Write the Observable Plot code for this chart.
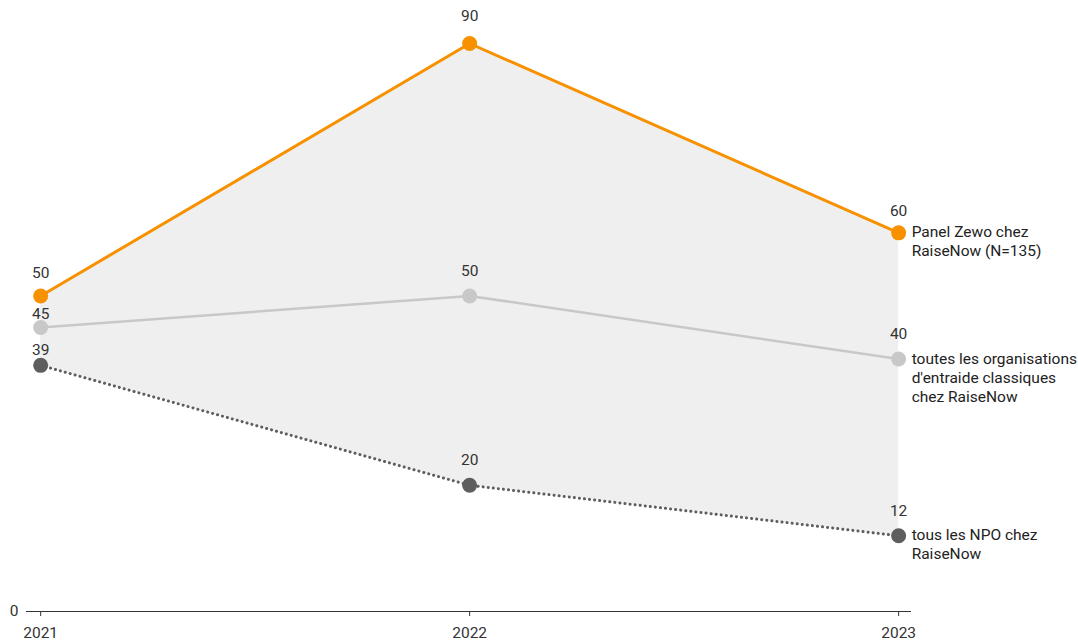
<!DOCTYPE html>
<html>
<head>
<meta charset="utf-8">
<script src="https://cdn.jsdelivr.net/npm/d3@7"></script>
<script src="https://cdn.jsdelivr.net/npm/@observablehq/plot@0.6"></script>
<style>
  html, body { margin: 0; padding: 0; background: #fff; }
  #chart { font-family: Roboto, sans-serif; }
</style>
</head>
<body>
<div id="chart"></div>
<script>
const years = [2021, 2022, 2023];
const seriesNames = [
  "Panel Zewo chez\nRaiseNow (N=135)",
  "toutes les organisations\nd'entraide classiques\nchez RaiseNow",
  "tous les NPO chez\nRaiseNow"
];
const zewo = [50, 90, 60];
const classiques = [45, 50, 40];
const npo = [39, 20, 12];
const colors = ["#F79100", "#C8C8C8", "#5E5E5E"];

const allSeries = [zewo, classiques, npo];
const rows = [];
allSeries.forEach((vals, s) => {
  vals.forEach((v, i) => rows.push({series: s, year: years[i], value: v}));
});
const band = years.map((y, i) => ({year: y, low: npo[i], high: zewo[i]}));
const lastRows = rows.filter(d => d.year === years[years.length - 1]);

// label nudges to avoid collision at the first year
function labelDy(d) {
  if (d.year === 2021 && d.series === 1) return -13;
  if (d.year === 2021 && d.series === 2) return -15;
  if (d.year === 2021 && d.series === 0) return -23;
  if (d.series === 0 && d.year === 2022) return -27;
  return d.series === 0 ? -22 : -25;
}

const lineStyles = [
  {strokeWidth: 3, dash: null},
  {strokeWidth: 2.5, dash: null},
  {strokeWidth: 3, dash: "0.1,5"}
];

const FS = 15.5;

const marks = [
  Plot.areaY(band, {x: "year", y1: "low", y2: "high", fill: "#EFEFEF"}),
  Plot.ruleY([0], {stroke: "#333", strokeWidth: 1}),
  ...allSeries.map((vals, s) =>
    Plot.line(rows.filter(d => d.series === s), {
      x: "year", y: "value", stroke: colors[s],
      strokeWidth: lineStyles[s].strokeWidth,
      strokeDasharray: lineStyles[s].dash,
      strokeLinecap: "round"
    })
  ),
  Plot.dot(rows, {x: "year", y: "value", fill: d => colors[d.series], r: 7.5}),
  ...[-27, -25, -23, -22, -15, -13].map(dy =>
    Plot.text(rows.filter(d => labelDy(d) === dy), {
      x: "year", y: "value", text: d => String(d.value), dy,
      fill: "#333", fontSize: FS
    })
  ),
  Plot.text(lastRows, {
    x: "year", y: "value", text: d => seriesNames[d.series],
    textAnchor: "start", lineAnchor: "top", dx: 13, dy: -9,
    lineHeight: 1.23, fill: "#222", fontSize: FS
  })
];

const chart = Plot.plot({
  width: 1078,
  height: 643,
  marginLeft: 26,
  marginRight: 167,
  marginTop: 43,
  marginBottom: 32,
  style: {fontFamily: "Roboto, sans-serif", fontSize: FS + "px", color: "#333", background: "#fff"},
  x: {domain: [2020.967, 2023.03], ticks: years, tickFormat: d => String(d), tickSize: 5, tickPadding: 6, label: null},
  y: {domain: [0, 90], ticks: [0], tickSize: 0, tickPadding: 8, label: null},
  color: {legend: false},
  marks: [
    ...marks,
    Plot.axisX({ticks: years, tickFormat: d => String(d), tickSize: 5, tickPadding: 10, fontSize: FS, label: null}),
    Plot.axisY({ticks: [0], tickSize: 0, tickPadding: 8, fontSize: FS, label: null})
  ]
});
document.getElementById("chart").appendChild(chart);
</script>
</body>
</html>
